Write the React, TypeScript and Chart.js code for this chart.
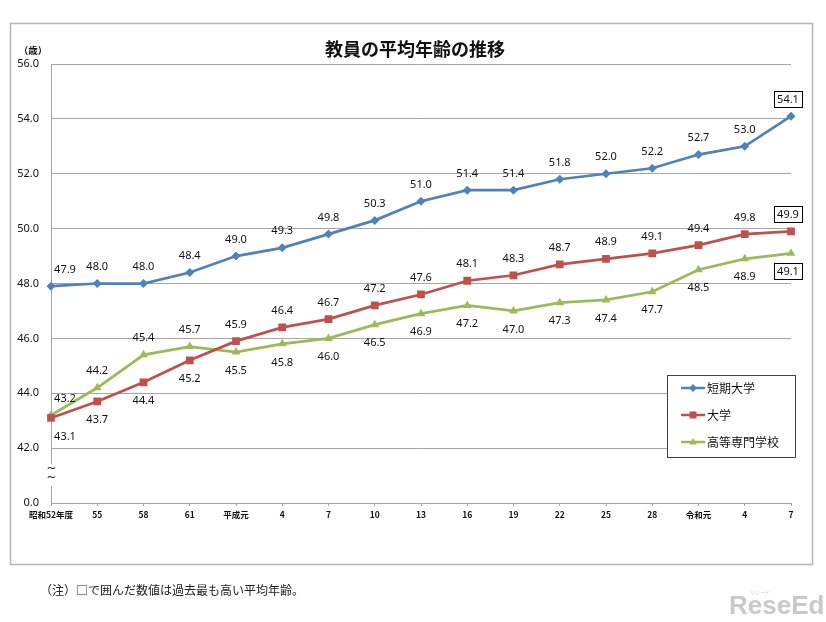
import React, { useEffect, useRef } from 'react';
import { Chart, registerables } from 'chart.js';

Chart.register(...registerables);

// 調査年度
const years = ['昭和52年度', '55', '58', '61', '平成元', '4', '7', '10', '13', '16', '19', '22', '25', '28', '令和元', '4', '7'];

// 平均年齢（歳）
const juniorCollege = [47.9, 48.0, 48.0, 48.4, 49.0, 49.3, 49.8, 50.3, 51.0, 51.4, 51.4, 51.8, 52.0, 52.2, 52.7, 53.0, 54.1];
const university = [43.1, 43.7, 44.4, 45.2, 45.9, 46.4, 46.7, 47.2, 47.6, 48.1, 48.3, 48.7, 48.9, 49.1, 49.4, 49.8, 49.9];
const technicalCollege = [43.2, 44.2, 45.4, 45.7, 45.5, 45.8, 46.0, 46.5, 46.9, 47.2, 47.0, 47.3, 47.4, 47.7, 48.5, 48.9, 49.1];

const seriesNames = ['短期大学', '大学', '高等専門学校'];
const seriesColors = ['#4F81BD', '#C0504D', '#9BBB59'];
const pointStyles = ['rectRot', 'rect', 'triangle'];

// y 軸：40 の位置は省略記号付きで「0.0」と表示
const yMin = 40;
const yMax = 56;
const yStep = 2;

// 値ラベルを点の上下どちらに置くか
const labelSides: string[][] = [
  years.map(() => 'above'),
  years.map((_, i) => (i < 4 ? 'below' : 'above')),
  years.map((_, i) => (i < 4 ? 'above' : 'below')),
];

const LABEL_FONT = "11px 'Noto Sans', 'DejaVu Sans', sans-serif";
const JP = "'Noto Sans CJK JP', 'Noto Sans', sans-serif";

function drawMarker(ctx: CanvasRenderingContext2D, style: string, x: number, y: number, r: number, color: string) {
  ctx.save();
  ctx.fillStyle = color;
  ctx.beginPath();
  if (style === 'rectRot') {
    ctx.moveTo(x, y - r);
    ctx.lineTo(x + r, y);
    ctx.lineTo(x, y + r);
    ctx.lineTo(x - r, y);
  } else if (style === 'rect') {
    ctx.rect(x - r, y - r, 2 * r, 2 * r);
  } else {
    ctx.moveTo(x, y - r);
    ctx.lineTo(x + r * 0.9, y + r * 0.6);
    ctx.lineTo(x - r * 0.9, y + r * 0.6);
  }
  ctx.closePath();
  ctx.fill();
  ctx.restore();
}

const decorPlugin = {
  id: 'decor',
  beforeDraw(chart: any) {
    const ctx = chart.ctx as CanvasRenderingContext2D;
    ctx.save();
    ctx.fillStyle = '#ffffff';
    ctx.fillRect(0, 0, chart.width, chart.height);
    ctx.restore();
  },
  afterDatasetsDraw(chart: any) {
    const ctx = chart.ctx as CanvasRenderingContext2D;
    ctx.save();
    ctx.font = LABEL_FONT;
    ctx.textAlign = 'center';
    ctx.textBaseline = 'middle';
    chart.data.datasets.forEach((ds: any, i: number) => {
      const meta = chart.getDatasetMeta(i);
      const values = ds.data as number[];
      const peak = values.lastIndexOf(Math.max(...values));
      const last = values.length - 1;
      meta.data.forEach((pt: any, j: number) => {
        const text = values[j].toFixed(1);
        const above = labelSides[i][j] === 'above';
        let x = pt.x;
        if (j === 0) x += 14;
        if (j === last) x -= 3;
        const y = above ? pt.y - 17 : pt.y + 18;
        if (j === peak) {
          const w = ctx.measureText(text).width + 6;
          ctx.fillStyle = '#ffffff';
          ctx.fillRect(x - w / 2, y - 8, w, 16);
          ctx.strokeStyle = '#000000';
          ctx.lineWidth = 1;
          ctx.strokeRect(Math.round(x - w / 2) + 0.5, Math.round(y - 8) + 0.5, Math.round(w), 16);
        }
        ctx.fillStyle = '#111111';
        ctx.fillText(text, x, y + 0.5);
      });
    });
    ctx.restore();
  },
  afterDraw(chart: any) {
    const ctx = chart.ctx as CanvasRenderingContext2D;
    const area = chart.chartArea;
    ctx.save();

    // 外枠
    ctx.strokeStyle = '#b4b4b4';
    ctx.lineWidth = 1.5;
    ctx.strokeRect(10.5, 23.5, 802, 541);

    // タイトル
    ctx.fillStyle = '#111111';
    ctx.font = `bold 18px ${JP}`;
    ctx.textAlign = 'center';
    ctx.textBaseline = 'middle';
    ctx.fillText('教員の平均年齢の推移', 415, 49);

    // 単位
    ctx.font = `bold 9.5px ${JP}`;
    ctx.fillText('（歳）', 33, 50);

    // 軸の省略記号
    ctx.fillStyle = '#ffffff';
    ctx.fillRect(area.left - 4, 464, 9, 22);
    ctx.fillStyle = '#222222';
    ctx.font = "12px 'DejaVu Sans', sans-serif";
    ctx.fillText('~', area.left + 0.5, 469);
    ctx.fillText('~', area.left + 0.5, 478);

    // 凡例
    const lx = 667, ly = 375, lw = 128, lh = 82;
    ctx.fillStyle = '#ffffff';
    ctx.fillRect(lx, ly, lw, lh);
    ctx.strokeStyle = '#404040';
    ctx.lineWidth = 1;
    ctx.strokeRect(lx + 0.5, ly + 0.5, lw, lh);
    const rows = [388, 415, 442];
    seriesNames.forEach((name, i) => {
      const y = rows[i];
      ctx.strokeStyle = seriesColors[i];
      ctx.lineWidth = 2.5;
      ctx.beginPath();
      ctx.moveTo(681, y);
      ctx.lineTo(705, y);
      ctx.stroke();
      drawMarker(ctx, pointStyles[i], 693, y, i === 1 ? 3.5 : 4, seriesColors[i]);
      ctx.fillStyle = '#111111';
      ctx.font = `12px ${JP}`;
      ctx.textAlign = 'left';
      ctx.fillText(name, 707, y + 0.5);
    });

    // 注記
    ctx.fillStyle = '#222222';
    ctx.font = `12px ${JP}`;
    ctx.textAlign = 'left';
    ctx.fillText('（注）□で囲んだ数値は過去最も高い平均年齢。', 40, 590);

    // ロゴ
    ctx.fillStyle = '#c9c9c9';
    ctx.font = "bold 26px 'Liberation Sans', sans-serif";
    ctx.textAlign = 'left';
    ctx.fillText('ReseEd', 729, 607);
    ctx.font = `5px ${JP}`;
    ctx.fillText('リシード', 750, 592);

    ctx.restore();
  },
};

export default function App() {
  const canvasRef = useRef<HTMLCanvasElement | null>(null);

  useEffect(() => {
    const canvas = canvasRef.current;
    if (!canvas) return;
    const data = [juniorCollege, university, technicalCollege];
    const chart = new Chart(canvas, {
      type: 'line',
      data: {
        labels: years,
        datasets: data.map((values, i) => ({
          label: seriesNames[i],
          data: values,
          borderColor: seriesColors[i],
          backgroundColor: seriesColors[i],
          borderWidth: 2.75,
          pointStyle: pointStyles[i] as any,
          pointRadius: i === 0 ? 4.5 : i === 1 ? 5.5 : 5,
          pointBorderWidth: 0,
          pointBackgroundColor: seriesColors[i],
          tension: 0,
          fill: false,
        })),
      },
      options: {
        responsive: false,
        animation: false,
        layout: { padding: { top: 64, right: 35, left: 0, bottom: 0 } },
        plugins: {
          legend: { display: false },
          title: { display: false },
          tooltip: { enabled: false },
        },
        scales: {
          x: {
            offset: false,
            afterFit: (s: any) => {
              s.height = 119;
            },
            grid: {
              drawOnChartArea: false,
              drawTicks: true,
              tickLength: 3,
              color: '#a6a6a6',
            },
            border: { color: '#a6a6a6', width: 1 },
            ticks: {
              autoSkip: false,
              maxRotation: 0,
              minRotation: 0,
              padding: 4,
              color: '#111111',
              font: { family: JP, size: 8.5, weight: 'bold' },
            },
          },
          y: {
            min: yMin,
            max: yMax,
            afterFit: (s: any) => {
              s.width = 51;
            },
            grid: {
              color: '#a6a6a6',
              drawTicks: false,
              tickLength: 0,
            },
            border: { color: '#a6a6a6', width: 1 },
            ticks: {
              stepSize: yStep,
              padding: 12,
              color: '#111111',
              font: { family: "'Noto Sans', sans-serif", size: 11 },
              callback: (v: any) => (Number(v) === yMin ? '0.0' : Number(v).toFixed(1)),
            },
          },
        },
      },
      plugins: [decorPlugin],
    });
    return () => chart.destroy();
  }, []);

  return (
    <div style={{ position: 'fixed', left: 0, top: 0, width: 826, height: 622, background: '#fff' }}>
      <canvas ref={canvasRef} width={826} height={622} style={{ display: 'block' }} />
    </div>
  );
}
